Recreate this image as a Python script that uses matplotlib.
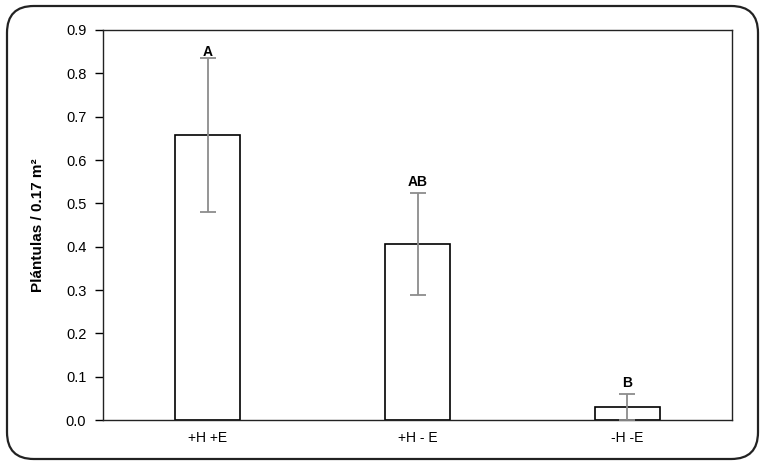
import matplotlib.pyplot as plt
from matplotlib.patches import FancyBboxPatch

plt.rcParams['font.family'] = ['Liberation Sans', 'DejaVu Sans']

categories = ['+H +E', '+H - E', '-H -E']
means = [0.657, 0.406, 0.030]
err_low = [0.178, 0.118, 0.030]
err_high = [0.178, 0.118, 0.030]
letters = ['A', 'AB', 'B']
letter_y = [0.832, 0.534, 0.069]

fig = plt.figure(figsize=(7.66, 4.65), dpi=100)
ax = fig.add_axes([103 / 766, 1 - 420 / 465, 629 / 766, 390 / 465])

# rounded border round the whole figure
border = FancyBboxPatch((7 / 766, 6 / 465), 751 / 766, 453 / 465,
                        boxstyle='round,pad=0,rounding_size=0.035',
                        transform=fig.transFigure, fill=False,
                        edgecolor='#222222', linewidth=1.6,
                        mutation_aspect=766 / 465)
fig.patches.append(border)

x = range(len(categories))
ax.bar(x, means, width=0.31, color='white', edgecolor='black', linewidth=1.2, zorder=2)
ax.errorbar(x, means, yerr=[err_low, err_high], fmt='none', ecolor='#8c8c8c',
            elinewidth=1.3, capsize=6, capthick=1.3, zorder=3)

for i, lab in enumerate(letters):
    ax.text(i, letter_y[i], lab, ha='center', va='bottom', fontsize=10,
            fontweight='bold', zorder=4)

ax.set_xlim(-0.5, 2.5)
ax.set_ylim(0, 0.9)
ax.set_yticks([i / 10 for i in range(10)])
ax.set_yticklabels([f'{i / 10:.1f}' for i in range(10)], fontsize=10.5)
ax.set_xticks(list(x))
ax.set_xticklabels(categories, fontsize=10)
ax.tick_params(axis='x', length=0, pad=8)
ax.tick_params(axis='y', direction='out', length=6, width=1, pad=6)
for s in ax.spines.values():
    s.set_linewidth(1)
    s.set_color('#222222')

ax.set_ylabel('Plántulas / 0.17 m²', fontsize=11, fontweight='bold', labelpad=15)

fig.savefig('out.png', dpi=100)
